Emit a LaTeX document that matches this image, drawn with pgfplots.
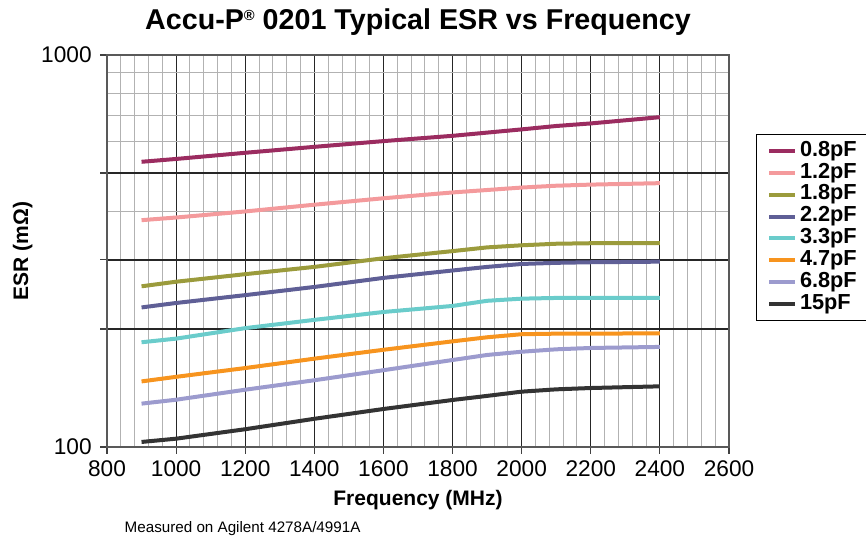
\documentclass[border=0pt]{standalone}
\usepackage{fontspec}
\setmainfont{Liberation Sans}
\usepackage{pgfplots}
\pgfplotsset{compat=1.18}
\usetikzlibrary{calc}

\definecolor{cA}{RGB}{155,44,96}
\definecolor{cB}{RGB}{244,154,156}
\definecolor{cC}{RGB}{155,155,60}
\definecolor{cD}{RGB}{95,95,150}
\definecolor{cE}{RGB}{106,204,203}
\definecolor{cF}{RGB}{247,148,30}
\definecolor{cG}{RGB}{156,155,206}
\definecolor{cH}{RGB}{51,51,51}

\begin{document}
\begin{tikzpicture}
\begin{axis}[
    width=466.5pt, height=294pt,
    scale only axis,
    clip=false,
    ymode=log,
    xmin=800, xmax=2600,
    ymin=100, ymax=1000,
    xtick={800,1000,...,2600},
    minor x tick num=4,
    ytick={100,200,300,500,1000},
    yticklabels={100,,,,1000},
    minor ytick={400,600,700,800,900},
    xtick pos=bottom, ytick pos=left,
    tick align=outside,
    major tick length=5pt,
    minor tick length=0pt,
    tick style={black!75, line width=0.8pt},
    grid=both,
    major grid style={black!85, line width=0.9pt},
    minor grid style={black!30, line width=0.7pt},
    axis line style={black!65, line width=1.2pt},
    /pgf/number format/assume math mode=true,
    /pgf/number format/1000 sep={},
    ticklabel style={font=\fontsize{17}{20}\selectfont},
    yticklabel style={xshift=-3pt},
    xticklabel style={yshift=-2pt},
    xlabel={Frequency (MHz)},
    ylabel={ESR (mΩ)},
    xlabel style={at={(axis description cs:0.5,-0.1505)}, anchor=base,
        font=\fontsize{15.75}{18}\selectfont\bfseries},
    ylabel style={at={(axis description cs:-0.127,0.5)}, anchor=base,
        font=\fontsize{15.75}{18}\selectfont\bfseries},
    legend cell align=left,
    legend style={at={(axis description cs:1.0434,0.7985)}, anchor=north west,
        draw=black, line width=1pt, fill=white,
        font=\fontsize{16.3}{18}\selectfont\bfseries,
        inner xsep=8pt, inner ysep=4pt, row sep=0pt,
        nodes={text height=11.5pt, text depth=3.5pt, inner ysep=0.7pt, inner xsep=2pt},
        /tikz/column 2/.style={text width=60pt}},
    legend image code/.code={\draw[line width=3pt] (0pt,0pt) -- (19.5pt,0pt);},
    every axis plot/.append style={line width=3pt, line join=round},
]
\addplot[cA] coordinates {(900,534) (1000,543) (1200,563) (1400,583) (1600,603) (1800,622) (2000,646) (2100,659) (2200,669) (2400,694)};
\addlegendentry{0.8pF}
\addplot[cB] coordinates {(900,379) (1000,385) (1200,399) (1400,415) (1600,431) (1800,446) (2000,459) (2100,464) (2200,467) (2400,471)};
\addlegendentry{1.2pF}
\addplot[cC] coordinates {(900,257) (1000,264) (1200,276) (1400,288) (1600,303) (1800,316) (1900,323) (2000,327) (2100,330) (2200,331) (2400,331)};
\addlegendentry{1.8pF}
\addplot[cD] coordinates {(900,227) (1000,233) (1200,244) (1400,256) (1600,270) (1800,282) (1900,288) (2000,293) (2100,295) (2200,296) (2400,297)};
\addlegendentry{2.2pF}
\addplot[cE] coordinates {(900,185) (1000,189) (1200,201) (1400,211) (1600,221) (1800,229) (1900,236) (2000,239) (2100,240) (2200,240) (2400,240)};
\addlegendentry{3.3pF}
\addplot[cF] coordinates {(900,147) (1000,151) (1200,159) (1400,168) (1600,177) (1800,186) (1900,190.5) (2000,194) (2100,194.6) (2200,194.6) (2400,195)};
\addlegendentry{4.7pF}
\addplot[cG] coordinates {(900,129) (1000,132) (1200,140) (1400,148) (1600,157) (1800,166.7) (1900,171.7) (2000,175) (2100,177.5) (2200,178.9) (2400,180)};
\addlegendentry{6.8pF}
\addplot[cH] coordinates {(900,103) (1000,105) (1200,111) (1400,118) (1600,125) (1800,131.8) (1900,135) (2000,138.4) (2100,140.3) (2200,141.4) (2400,142.8)};
\addlegendentry{15pF}
\coordinate (SW) at (rel axis cs:0,0);
\coordinate (NE) at (rel axis cs:1,1);
\end{axis}
\node[anchor=base, font=\fontsize{21.5}{24}\selectfont\bfseries]
    at ($(SW)!0.5!(NE) + (0,165.75pt)$) {Accu-P\raisebox{7pt}{\fontsize{11}{11}\selectfont ®} 0201 Typical ESR vs Frequency};
\node[anchor=base west, font=\fontsize{11.4}{13}\selectfont]
    at ($(SW)+(9.75pt,-64.5pt)$) {Measured on Agilent 4278A/4991A};
\pgfresetboundingbox
\path[use as bounding box] ($(SW)+(-80.25pt,-72.75pt)$) rectangle ($(NE)+(102.75pt,41.25pt)$);
\end{tikzpicture}
\end{document}
